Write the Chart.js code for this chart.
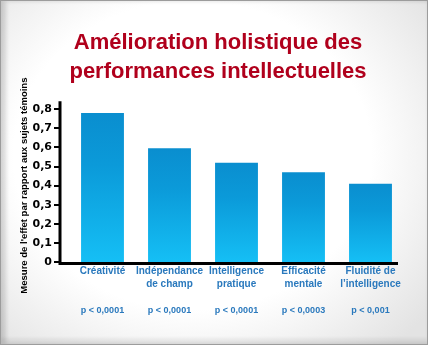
<!DOCTYPE html>
<html>
<head>
<meta charset="utf-8">
<script src="https://cdn.jsdelivr.net/npm/chart.js@4"></script>
<style>
  html, body { margin: 0; padding: 0; }
  body { width: 428px; height: 345px; background: #cfcfcf; overflow: hidden; }
  #frame {
    position: absolute; left: 0; top: 0; width: 426px; height: 343px;
    border: 1px solid #9c9c9c;
    background: radial-gradient(ellipse 70% 75% at 45% 45%, #ffffff 60%, #e3e3e3 100%);
    box-shadow: inset 5px 0 4px rgba(0,0,0,0.14), inset 0 -6px 3px rgba(0,0,0,0.06);
  }
  #chart { position: absolute; left: 0; top: 0; }
</style>
</head>
<body>
<div id="frame"></div>
<canvas id="chart" width="428" height="345"></canvas>
<script>
var categories = [
  ['Créativité', ''],
  ['Indépendance', 'de champ'],
  ['Intelligence', 'pratique'],
  ['Efficacité', 'mentale'],
  ['Fluidité de', 'l’intelligence']
];
var effects = [0.78, 0.595, 0.52, 0.47, 0.41];
var pValues = ['p < 0,0001', 'p < 0,0001', 'p < 0,0001', 'p < 0,0003', 'p < 0,001'];
var yTicks = [0, 0.1, 0.2, 0.3, 0.4, 0.5, 0.6, 0.7, 0.8];

var labelBlue = '#2a79bd';

function barGradient(context) {
  var chart = context.chart;
  var area = chart.chartArea;
  if (!area || context.raw == null) return '#0a98da';
  var top = chart.scales.y.getPixelForValue(context.raw);
  var g = chart.ctx.createLinearGradient(0, top, 0, area.bottom);
  g.addColorStop(0, '#0a8ecf');
  g.addColorStop(0.35, '#0b9ad9');
  g.addColorStop(1, '#15bff5');
  return g;
}

// axes drawn by hand: the black axis sits a little left of the first bar
var axesPlugin = {
  id: 'axes',
  afterDatasetsDraw: function (chart) {
    var ctx = chart.ctx;
    var area = chart.chartArea;
    var y = chart.scales.y;
    var axisX = area.left - 9;
    ctx.save();
    ctx.strokeStyle = '#000';
    ctx.lineWidth = 3;
    ctx.beginPath();
    ctx.moveTo(axisX, y.getPixelForValue(0.8) - 8);
    ctx.lineTo(axisX, area.bottom + 1.5);
    ctx.lineTo(area.right - 6, area.bottom + 1.5);
    ctx.stroke();
    ctx.lineWidth = 2;
    yTicks.forEach(function (v) {
      var py = Math.round(y.getPixelForValue(v));
      ctx.beginPath();
      ctx.moveTo(axisX - 6, py);
      ctx.lineTo(axisX, py);
      ctx.stroke();
    });
    ctx.restore();
  }
};

var ctx = document.getElementById('chart').getContext('2d');
var myChart = new Chart(ctx, {
  type: 'bar',
  data: {
    labels: categories,
    datasets: [{
      data: effects,
      backgroundColor: barGradient,
      borderWidth: 0,
      categoryPercentage: 1,
      barPercentage: 0.64
    }]
  },
  plugins: [axesPlugin],
  options: {
    responsive: false,
    animation: false,
    layout: { padding: { left: 8, right: 0, top: 0, bottom: 0 } },
    plugins: {
      legend: { display: false },
      tooltip: { enabled: false },
      title: {
        display: true,
        text: ['Amélioration holistique des', 'performances intellectuelles'],
        color: '#b0001c',
        font: { family: 'Liberation Sans', size: 22, weight: 'bold', lineHeight: 1.3 },
        padding: { top: 29, bottom: 23 }
      }
    },
    scales: {
      y: {
        min: 0,
        max: 0.8,
        afterBuildTicks: function (scale) {
          scale.ticks = yTicks.map(function (v) { return { value: v }; });
        },
        afterFit: function (scale) { scale.width = 61; },
        grid: { display: false, drawTicks: false },
        border: { display: false },
        ticks: {
          color: '#000',
          padding: 17,
          autoSkip: false,
          font: { family: 'DejaVu Sans', size: 11, weight: 'bold' },
          callback: function (v) { return v === 0 ? '0' : v.toFixed(1).replace('.', ','); }
        },
        title: {
          display: true,
          text: 'Mesure de l\'effet par rapport aux sujets témoins',
          color: '#000',
          font: { family: 'Liberation Sans', size: 9.5, weight: 'bold' },
          padding: { top: 11, bottom: 0 }
        }
      },
      // empty axis on the right so the title is centred on the whole card
      yRight: {
        position: 'right',
        afterFit: function (scale) { scale.width = 24; },
        grid: { display: false, drawTicks: false },
        border: { display: false },
        ticks: { display: false }
      },
      x: {
        offset: true,
        afterFit: function (scale) { scale.height = 30; },
        grid: { display: false, drawTicks: false },
        border: { display: false },
        ticks: {
          color: labelBlue,
          padding: 3,
          maxRotation: 0,
          autoSkip: false,
          font: { family: 'Liberation Sans', size: 10, weight: 'bold', lineHeight: 1.3 }
        }
      },
      x2: {
        type: 'category',
        position: 'bottom',
        labels: pValues,
        offset: true,
        afterFit: function (scale) { scale.height = 53; },
        grid: { display: false, drawTicks: false },
        border: { display: false },
        ticks: {
          color: labelBlue,
          padding: 13,
          maxRotation: 0,
          autoSkip: false,
          font: { family: 'Liberation Sans', size: 9, weight: 'bold', lineHeight: 1.3 }
        }
      }
    }
  }
});
</script>
</body>
</html>
